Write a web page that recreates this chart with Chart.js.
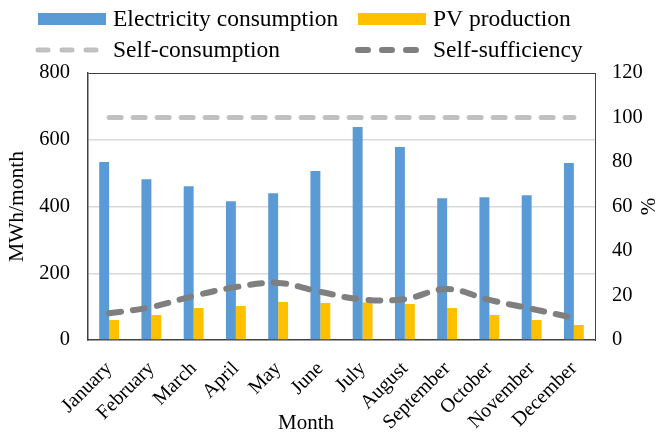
<!DOCTYPE html>
<html>
<head>
<meta charset="utf-8">
<script src="https://cdn.jsdelivr.net/npm/chart.js@4"></script>
<style>
  html, body { margin: 0; padding: 0; background: #fff; }
  #wrap { width: 658px; height: 432px; }
</style>
</head>
<body>
<div id="wrap"><canvas id="myChart"></canvas></div>
<script>
const months = ['January', 'February', 'March', 'April', 'May', 'June', 'July', 'August', 'September', 'October', 'November', 'December'];
const consumption = [533, 482, 461, 416, 440, 506, 638, 578, 425, 428, 434, 530];
const pvProduction = [60, 75, 96, 102, 114, 111, 113, 108, 96, 75, 60, 45];
const selfConsumption = [100, 100, 100, 100, 100, 100, 100, 100, 100, 100, 100, 100];
const selfSufficiency = [12, 14.8, 19.8, 23.8, 25.6, 21.6, 18.2, 18.4, 22.9, 18, 14, 9.9];
const leftTicks = [0, 200, 400, 600, 800];
const rightTicks = [0, 20, 40, 60, 80, 100, 120];

const serif = '"Liberation Serif", "Times New Roman", serif';
const axisDark = '#404040';

// legend in two fixed columns like the original, plus the x title and the right "%" title
const gridLegend = {
  id: 'gridLegend',
  afterDraw(chart) {
    const c = chart.ctx;
    const ds = chart.data.datasets;
    const cols = [36, 356];
    const rows = [19, 50];
    c.save();
    c.font = '23.5px ' + serif;
    c.fillStyle = '#000';
    c.textBaseline = 'middle';
    ds.forEach((d, i) => {
      const x = cols[i % 2];
      const y = rows[Math.floor(i / 2)];
      if (d.type === 'line') {
        c.strokeStyle = d.borderColor;
        c.lineWidth = d.borderWidth;
        c.lineCap = 'round';
        c.setLineDash([10, 14]);
        c.beginPath();
        c.moveTo(x + 2, y);
        c.lineTo(x + 66, y);
        c.stroke();
        c.setLineDash([]);
      } else {
        c.fillStyle = d.backgroundColor;
        c.fillRect(x + 2, y - 6, 68, 12);
        c.fillStyle = '#000';
      }
      c.fillText(d.label, x + 77, y + 1);
    });

    c.font = '21px ' + serif;
    c.textAlign = 'center';
    c.fillText('Month', 306, 423);
    c.translate(649, (chart.chartArea.top + chart.chartArea.bottom) / 2);
    c.rotate(-Math.PI / 2);
    c.fillText('%', 0, 0);
    c.restore();
  },
};

const ctx = document.getElementById('myChart').getContext('2d');

const chart = new Chart(ctx, {
  data: {
    labels: months,
    datasets: [
      {
        type: 'bar',
        label: 'Electricity consumption',
        data: consumption,
        backgroundColor: '#5B9BD5',
        yAxisID: 'y',
        order: 2,
      },
      {
        type: 'bar',
        label: 'PV production',
        data: pvProduction,
        backgroundColor: '#FFC000',
        yAxisID: 'y',
        order: 2,
      },
      {
        type: 'line',
        label: 'Self-consumption',
        data: selfConsumption,
        borderColor: '#C0C0C0',
        backgroundColor: '#C0C0C0',
        borderWidth: 5,
        borderDash: [12, 12],
        borderCapStyle: 'round',
        pointRadius: 0,
        fill: false,
        yAxisID: 'y1',
        order: 1,
      },
      {
        type: 'line',
        label: 'Self-sufficiency',
        data: selfSufficiency,
        borderColor: '#7F7F7F',
        backgroundColor: '#7F7F7F',
        borderWidth: 6,
        borderDash: [12, 12],
        borderCapStyle: 'round',
        tension: 0.4,
        pointRadius: 0,
        fill: false,
        yAxisID: 'y1',
        order: 0,
      },
    ],
  },
  options: {
    responsive: true,
    maintainAspectRatio: false,
    animation: false,
    layout: { padding: { top: 73, left: 0, right: 0, bottom: 0 } },
    datasets: {
      bar: { categoryPercentage: 0.47, barPercentage: 1.0 },
    },
    plugins: {
      legend: { display: false },
      tooltip: { enabled: false },
    },
    scales: {
      x: {
        grid: { display: false, drawTicks: false },
        border: { color: axisDark, width: 1.5 },
        ticks: {
          color: '#000',
          font: { family: serif, size: 20 },
          minRotation: 45,
          maxRotation: 45,
          padding: 17,
        },
        afterFit(scale) { scale.height = 92; },
      },
      y: {
        position: 'left',
        min: 0,
        max: 800,
        afterBuildTicks(scale) { scale.ticks = leftTicks.map(v => ({ value: v })); },
        grid: {
          drawTicks: false,
          color: c => (c.tick.value === 800 ? axisDark : c.tick.value === 0 ? 'rgba(0,0,0,0)' : '#D9D9D9'),
          lineWidth: c => (c.tick.value === 800 ? 1 : 1.5),
        },
        border: { color: axisDark, width: 1.5 },
        ticks: {
          color: '#000',
          font: { family: serif, size: 20.5 },
          padding: 18,
        },
        title: {
          display: true,
          text: 'MWh/month',
          color: '#000',
          font: { family: serif, size: 21.5, lineHeight: 1 },
          padding: { top: 7, bottom: 0 },
        },
        afterFit(scale) { scale.width = 88; },
      },
      y1: {
        position: 'right',
        min: 0,
        max: 120,
        afterBuildTicks(scale) { scale.ticks = rightTicks.map(v => ({ value: v })); },
        grid: { display: false, drawTicks: false },
        border: { color: axisDark, width: 1 },
        ticks: {
          color: '#000',
          font: { family: serif, size: 20.5 },
          padding: 17,
        },
        afterFit(scale) { scale.width = 63; },
      },
    },
  },
  plugins: [gridLegend],
});
</script>
</body>
</html>
